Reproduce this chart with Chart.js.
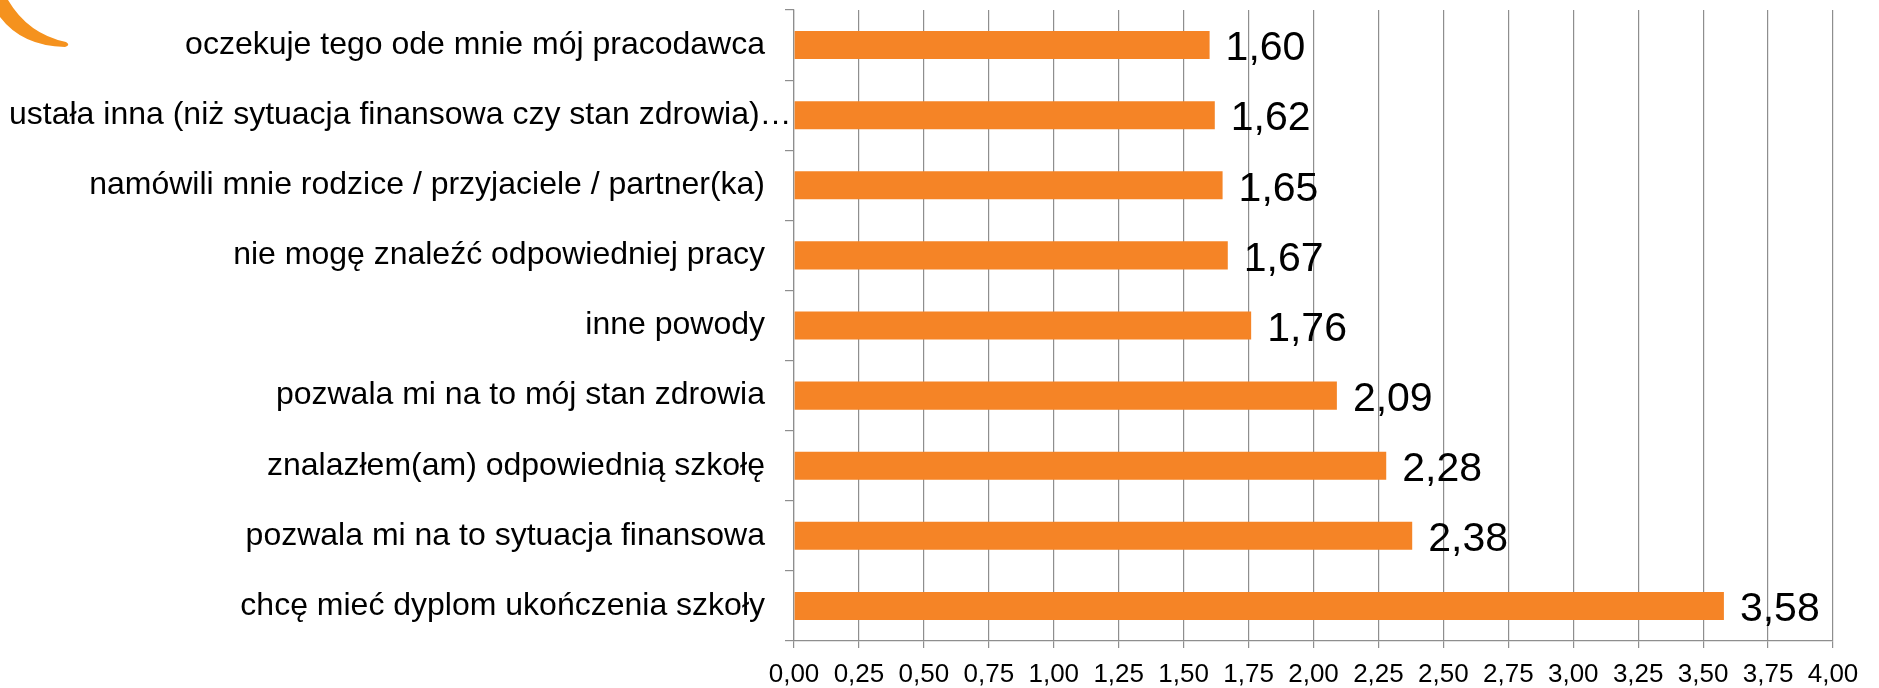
<!DOCTYPE html>
<html>
<head>
<meta charset="utf-8">
<script src="https://cdn.jsdelivr.net/npm/chart.js@4"></script>
<style>
  body { margin: 0; background: #ffffff; }
  #wrap { width: 1879px; height: 688px; position: relative; }
</style>
</head>
<body>
<div id="wrap"><canvas id="chart"></canvas></div>
<script>
// ---- Data ----
const categories = [
  "oczekuje tego ode mnie mój pracodawca",
  "ustała inna (niż sytuacja finansowa czy stan zdrowia)…",
  "namówili mnie rodzice / przyjaciele / partner(ka)",
  "nie mogę znaleźć odpowiedniej pracy",
  "inne powody",
  "pozwala mi na to mój stan zdrowia",
  "znalazłem(am) odpowiednią szkołę",
  "pozwala mi na to sytuacja finansowa",
  "chcę mieć dyplom ukończenia szkoły"
];
const values = [1.60, 1.62, 1.65, 1.67, 1.76, 2.09, 2.28, 2.38, 3.58];
const axisMin = 0;
const axisMax = 4;
const axisStep = 0.25;

const FONT = '"Liberation Sans", Arial, sans-serif';
const GRID = "#8e8e8e";
const BAR = "#F58426";

function fmt(v) {
  return v.toFixed(2).replace(".", ",");
}

// orange swoosh in the top-left corner
const swooshPlugin = {
  id: "swoosh",
  beforeDraw(chart) {
    const ctx = chart.ctx;
    ctx.save();
    ctx.fillStyle = "#F5921E";
    ctx.beginPath();
    ctx.moveTo(0, 0);
    ctx.lineTo(8, 0);
    ctx.quadraticCurveTo(28, 34, 66, 42);
    ctx.quadraticCurveTo(71, 45, 65, 47);
    ctx.quadraticCurveTo(22, 46, 0, 17);
    ctx.closePath();
    ctx.fill();
    ctx.restore();
  }
};

// category labels, right aligned but kept inside the left edge
const categoryLabelPlugin = {
  id: "categoryLabels",
  afterDraw(chart) {
    const ctx = chart.ctx;
    const yScale = chart.scales.y;
    ctx.save();
    ctx.font = "32px " + FONT;
    ctx.fillStyle = "#000000";
    ctx.textBaseline = "middle";
    categories.forEach((label, i) => {
      const y = yScale.getPixelForValue(i);
      const w = ctx.measureText(label).width;
      let x = 765;
      if (x - w < 9) {
        ctx.textAlign = "left";
        x = 9;
      } else {
        ctx.textAlign = "right";
      }
      ctx.fillText(label, x, y);
    });
    ctx.restore();
  }
};

// value labels at the end of each bar
const valueLabelPlugin = {
  id: "valueLabels",
  afterDatasetsDraw(chart) {
    const ctx = chart.ctx;
    const meta = chart.getDatasetMeta(0);
    ctx.save();
    ctx.font = "41px " + FONT;
    ctx.fillStyle = "#000000";
    ctx.textAlign = "left";
    ctx.textBaseline = "middle";
    meta.data.forEach((bar, i) => {
      ctx.fillText(fmt(values[i]), bar.x + 16, bar.y + 4);
    });
    ctx.restore();
  }
};

new Chart(document.getElementById("chart"), {
  type: "bar",
  data: {
    labels: categories,
    datasets: [
      {
        data: values,
        backgroundColor: BAR,
        borderWidth: 0,
        categoryPercentage: 1,
        barPercentage: 0.4
      }
    ]
  },
  options: {
    indexAxis: "y",
    responsive: true,
    maintainAspectRatio: false,
    animation: false,
    layout: { padding: { top: 10, right: 46, bottom: 0, left: 0 } },
    plugins: {
      legend: { display: false },
      tooltip: { enabled: false }
    },
    scales: {
      x: {
        min: axisMin,
        max: axisMax,
        afterFit(scale) {
          scale.height = 47;
        },
        ticks: {
          stepSize: axisStep,
          color: "#000000",
          padding: 11,
          maxRotation: 0,
          autoSkip: false,
          font: { family: FONT, size: 26 },
          callback: (v) => fmt(v)
        },
        grid: {
          color: GRID,
          lineWidth: 1.2,
          drawTicks: true,
          tickLength: 7
        },
        border: { display: true, color: GRID, width: 1.2 }
      },
      y: {
        afterFit(scale) {
          scale.width = 794;
        },
        ticks: { display: false },
        grid: {
          offset: true,
          drawOnChartArea: false,
          drawTicks: true,
          tickLength: 9,
          color: GRID,
          lineWidth: 1.2
        },
        border: { display: true, color: GRID, width: 1.2 }
      }
    }
  },
  plugins: [swooshPlugin, categoryLabelPlugin, valueLabelPlugin]
});
</script>
</body>
</html>
